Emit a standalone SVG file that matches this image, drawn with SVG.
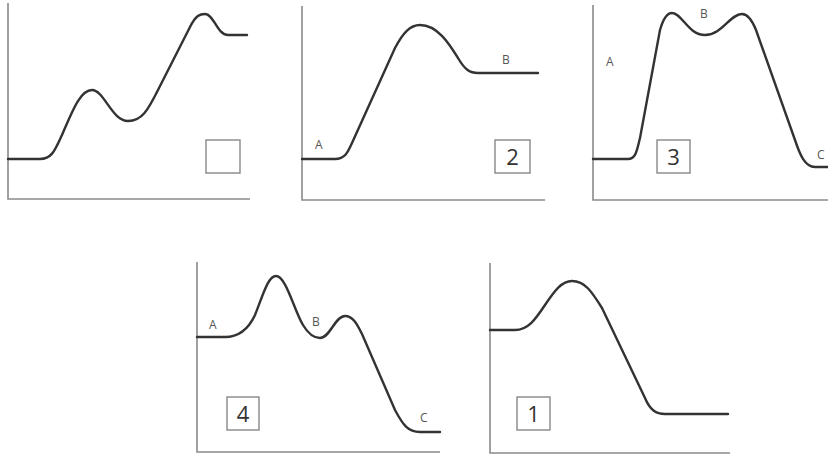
<svg xmlns="http://www.w3.org/2000/svg" width="828" height="456" viewBox="0 0 828 456">
<style>
.axis{fill:none;stroke:#8a8a8a;stroke-width:1.6}
.curve{fill:none;stroke:#333;stroke-width:2.4;stroke-linejoin:round;stroke-linecap:round}
.box{fill:#fff;stroke:#888;stroke-width:1.4}
.lbl{font-family:"Open Sans","Liberation Sans",sans-serif;font-size:12px;fill:#555}
.num{font-family:"Open Sans","Liberation Sans",sans-serif;font-size:22px;fill:#333;text-anchor:middle}
</style>
<rect width="828" height="456" fill="#fff"/>
<g id="panel-top-left">
<path class="axis" d="M8,3 V199 H250"/>
<path class="curve" d="M8,159 L40,159 C52,159 55,150 62,135 C72,112 80,90 92,90 C104,90 112,121 128,121 C142,121 148,110 158,90 L190,27 C196,15 200,14 205,14 C214,14 217,35 228,35 L247,35"/>
<rect class="box" x="206" y="140" width="34" height="33"/>
</g>
<g id="panel-2">
<path class="axis" d="M302,6 V200 H545"/>
<path class="curve" d="M302,159 L335,159 C345,159 348,152 352,143 L395,48 C403,33 410,25 420,25 C438,25 450,45 458,58 C465,70 470,73 478,73 L538,73"/>
<text class="lbl" x="315" y="149">A</text>
<text class="lbl" x="502" y="64">B</text>
<rect class="box" x="495" y="140" width="35" height="33"/>
<text class="num" x="512.5" y="165">2</text>
</g>
<g id="panel-3">
<path class="axis" d="M593,5 V200 H828"/>
<path class="curve" d="M593,159 L628,159 C636,159 637,150 640,138 L660,30 C664,16 668,13 672,13 C682,13 688,35 705,35 C722,35 730,14 742,14 C748,14 752,20 756,30 L795,140 C800,155 805,167 815,167 L828,167"/>
<text class="lbl" x="606" y="66">A</text>
<text class="lbl" x="700" y="18">B</text>
<text class="lbl" x="817" y="159">C</text>
<rect class="box" x="657" y="140" width="33" height="33"/>
<text class="num" x="673.5" y="165">3</text>
</g>
<g id="panel-4">
<path class="axis" d="M197,262 V452 H440"/>
<path class="curve" d="M197,337 L225,337 C238,337 248,330 255,315 C263,295 268,276 276,276 C286,276 294,310 303,325 C309,335 314,338 320,338 C330,338 335,316 345,316 C353,316 357,324 362,334 L395,410 C403,425 408,432 420,432 L440,432"/>
<text class="lbl" x="209" y="329">A</text>
<text class="lbl" x="312" y="326">B</text>
<text class="lbl" x="420" y="422">C</text>
<rect class="box" x="227" y="397" width="32" height="33"/>
<text class="num" x="243" y="422">4</text>
</g>
<g id="panel-1">
<path class="axis" d="M490,263 V453 H730"/>
<path class="curve" d="M490,330 L515,330 C528,330 535,320 545,305 C555,290 562,281 572,281 C585,281 592,292 602,308 L645,398 C650,410 656,414 665,414 L728,414"/>
<rect class="box" x="517" y="397" width="33" height="33"/>
<text class="num" x="533.5" y="422">1</text>
</g>
</svg>
